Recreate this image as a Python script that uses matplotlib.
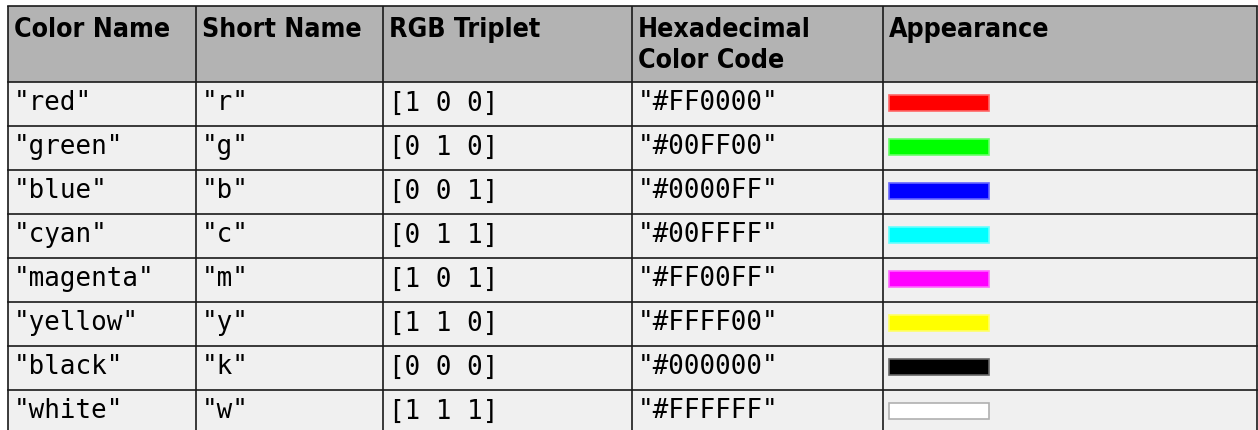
import matplotlib.pyplot as plt
from matplotlib.patches import Rectangle
from matplotlib.colors import to_rgb

headers = ['Color Name', 'Short Name', 'RGB Triplet', 'Hexadecimal\nColor Code', 'Appearance']
color_names = ['"red"', '"green"', '"blue"', '"cyan"', '"magenta"', '"yellow"', '"black"', '"white"']
short_names = ['"r"', '"g"', '"b"', '"c"', '"m"', '"y"', '"k"', '"w"']
rgb_triplets = ['[1 0 0]', '[0 1 0]', '[0 0 1]', '[0 1 1]', '[1 0 1]', '[1 1 0]', '[0 0 0]', '[1 1 1]']
hex_codes = ['"#FF0000"', '"#00FF00"', '"#0000FF"', '"#00FFFF"', '"#FF00FF"', '"#FFFF00"', '"#000000"', '"#FFFFFF"']

# layout in pixels
W, H = 1258, 431
col_edges = [8, 196, 383, 632, 883, 1257]
top, head_bot, row_h = 7, 83, 44

fig = plt.figure(figsize=(W / 100, H / 100), dpi=100)
ax = fig.add_axes([0, 0, 1, 1])
ax.set_xlim(0, W)
ax.set_ylim(H, 0)
ax.axis('off')

n_rows = len(color_names)
bottom = head_bot + row_h * n_rows

# backgrounds
ax.add_patch(Rectangle((col_edges[0], top), col_edges[-1] - col_edges[0], head_bot - top,
                       facecolor='#b3b3b3', edgecolor='none'))
ax.add_patch(Rectangle((col_edges[0], head_bot), col_edges[-1] - col_edges[0], bottom - head_bot,
                       facecolor='#f0f0f0', edgecolor='none'))

# grid lines
lc = '#1a1a1a'
for x in col_edges:
    ax.plot([x, x], [top, bottom], color=lc, lw=1.2, solid_capstyle='butt')
ax.plot([col_edges[0], col_edges[-1]], [top, top], color=lc, lw=1.2)
for i in range(n_rows + 1):
    y = head_bot + i * row_h
    ax.plot([col_edges[0], col_edges[-1]], [y, y], color=lc, lw=1.2)

# header text, one line at a time
for j, h in enumerate(headers):
    for k, line in enumerate(h.split('\n')):
        ax.text(col_edges[j] + 6, top + 30 + k * 31, line, ha='left', va='baseline',
                fontsize=19.2, fontweight='bold', family='DejaVu Sans', fontstretch='condensed')

# body
columns = [color_names, short_names, rgb_triplets, hex_codes]
for i in range(n_rows):
    y0 = head_bot + i * row_h
    for j, col in enumerate(columns):
        ax.text(col_edges[j] + 6, y0 + 27.5, col[i], ha='left', va='baseline', fontsize=18.6,
                family='DejaVu Sans Mono')
    c = to_rgb(hex_codes[i].strip('"'))
    if hex_codes[i] == '"#FFFFFF"':
        ec = '#b0b0b0'
    else:
        ec = tuple(0.6 * v + 0.4 for v in c)
    ax.add_patch(Rectangle((col_edges[4] + 6, y0 + 13), 100, 16, facecolor=c,
                           edgecolor=ec, lw=1.2))

fig.savefig('out.png', dpi=100)
